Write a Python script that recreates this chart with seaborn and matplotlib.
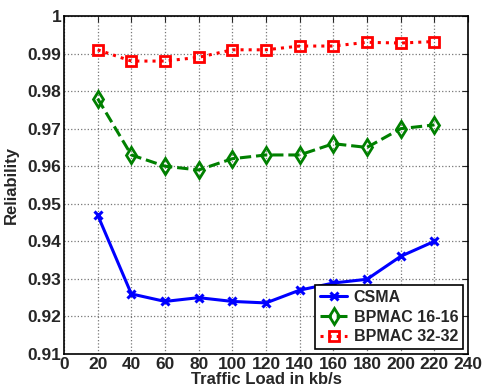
import numpy as np
import pandas as pd
import matplotlib
matplotlib.use('Agg')
import matplotlib.pyplot as plt
import seaborn as sns

# values
load = [20, 40, 60, 80, 100, 120, 140, 160, 180, 200, 220]
csma = [0.947, 0.926, 0.924, 0.925, 0.924, 0.9236, 0.927, 0.9289, 0.9299, 0.936, 0.940]
bpmac16 = [0.978, 0.963, 0.960, 0.959, 0.962, 0.963, 0.963, 0.966, 0.965, 0.970, 0.971]
bpmac32 = [0.991, 0.988, 0.988, 0.989, 0.991, 0.991, 0.992, 0.992, 0.993, 0.9928, 0.9932]
names = ['CSMA', 'BPMAC 16-16', 'BPMAC 32-32']
x_ticks = [0, 20, 40, 60, 80, 100, 120, 140, 160, 180, 200, 220, 240]
y_ticks = [0.91, 0.92, 0.93, 0.94, 0.95, 0.96, 0.97, 0.98, 0.99, 1.0]
y_labels = ['0.91', '0.92', '0.93', '0.94', '0.95', '0.96', '0.97', '0.98', '0.99', '1']

df = pd.DataFrame({'load': load * 3,
                   'rel': csma + bpmac16 + bpmac32,
                   'scheme': [n for n in names for _ in load]})

sns.set_style('white')
plt.rcParams['font.family'] = ['Liberation Sans', 'DejaVu Sans']
plt.rcParams['font.weight'] = 'bold'

fig = plt.figure(figsize=(4.83, 3.87), dpi=100)
ax = fig.add_axes([64 / 483, 1 - 354 / 387, 404 / 483, 338 / 387])

styles = {
    'CSMA': dict(color='#0000ff', ls='-', marker='x', ms=6, mew=2.2),
    'BPMAC 16-16': dict(color='#008000', ls='--', marker='d', ms=8, mew=2, mfc='none'),
    'BPMAC 32-32': dict(color='#ff0000', ls=':', marker='s', ms=7, mew=2, mfc='none'),
}
for n in names:
    s = styles[n]
    sub = df[df['scheme'] == n]
    sns.lineplot(data=sub, x='load', y='rel', ax=ax, label=n, color=s['color'],
                 linestyle=s['ls'], linewidth=2.2, marker=s['marker'],
                 markersize=s['ms'], markeredgewidth=s['mew'],
                 markeredgecolor=s['color'],
                 markerfacecolor=s.get('mfc', s['color']))

ax.set_xlim(0, 240)
ax.set_ylim(0.91, 1.0)
ax.set_xticks(x_ticks)
ax.set_yticks(y_ticks)
ax.set_yticklabels(y_labels)
ax.tick_params(direction='in', length=4, labelsize=12.5, pad=2, top=True, right=True)
for lab in ax.get_xticklabels() + ax.get_yticklabels():
    lab.set_fontweight('bold')
ax.grid(True, linestyle=':', color='#777777', linewidth=0.9)
for sp in ax.spines.values():
    sp.set_color('black')
    sp.set_linewidth(1.2)
ax.set_xlabel('Traffic Load in kb/s', fontsize=12, fontweight='bold', labelpad=0)
ax.set_ylabel('Reliability', fontsize=12, fontweight='bold', labelpad=6)

leg = ax.legend(loc='lower right', fontsize=11.5, frameon=True, fancybox=False,
                borderaxespad=0.3, handlelength=1.7, handletextpad=0.4,
                borderpad=0.3, labelspacing=0.3, numpoints=1)
leg.get_frame().set_edgecolor('black')
leg.get_frame().set_linewidth(1.2)
leg.get_frame().set_alpha(1)
for t in leg.get_texts():
    t.set_fontweight('bold')

fig.savefig('out.png', dpi=100)
